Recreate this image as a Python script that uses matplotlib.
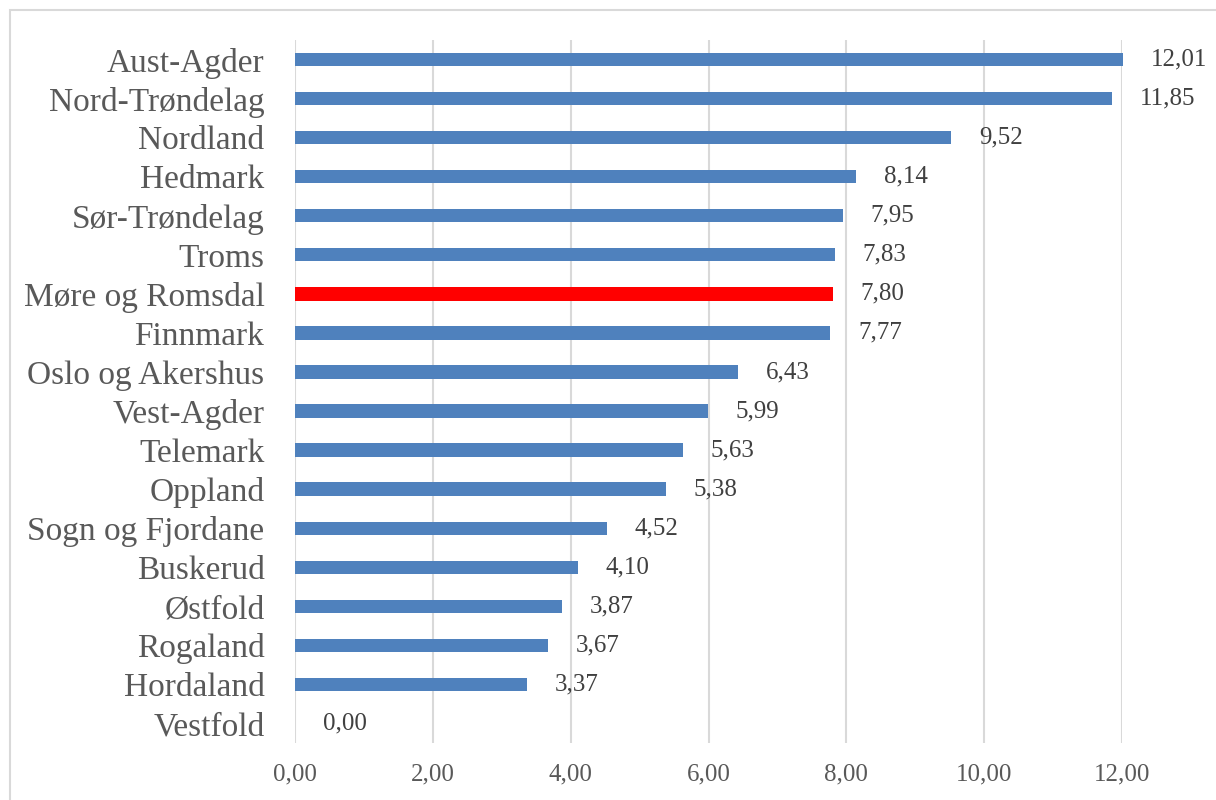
import matplotlib
matplotlib.use("Agg")
import matplotlib.pyplot as plt
from matplotlib.patches import Rectangle

categories = ["Aust-Agder", "Nord-Trøndelag", "Nordland", "Hedmark", "Sør-Trøndelag",
              "Troms", "Møre og Romsdal", "Finnmark", "Oslo og Akershus", "Vest-Agder",
              "Telemark", "Oppland", "Sogn og Fjordane", "Buskerud", "Østfold",
              "Rogaland", "Hordaland", "Vestfold"]
values = [12.01, 11.85, 9.52, 8.14, 7.95, 7.83, 7.80, 7.77, 6.43, 5.99,
          5.63, 5.38, 4.52, 4.10, 3.87, 3.67, 3.37, 0.00]
highlight = "Møre og Romsdal"
xticks = [0, 2, 4, 6, 8, 10, 12]

FONT = ["Liberation Serif", "DejaVu Serif"]
plt.rcParams['font.family'] = FONT

fig = plt.figure(figsize=(12.16, 8), dpi=100)
W, H = 1216, 800
ax = fig.add_axes([295 / W, 1 - 743 / H, (1122 - 295) / W, (743 - 40) / H])

n = len(categories)
ypos = list(range(n))
colors = ["#FF0000" if c == highlight else "#4F81BD" for c in categories]
bars = ax.barh(ypos, values, height=0.34, color=colors, zorder=3, clip_on=False)
ax.set_ylim(n - 0.5, -0.5)
ax.set_xlim(0, 12)
ax.set_yticks(ypos)
ax.set_yticklabels(categories, fontsize=24, color="#595959")
ax.set_xticks(xticks)
ax.set_xticklabels([f"{t:.2f}".replace(".", ",") for t in xticks], fontsize=18, color="#595959")
ax.tick_params(axis="y", length=0, pad=22)
ax.tick_params(axis="x", length=0, pad=15)
for s in ax.spines.values():
    s.set_visible(False)
ax.grid(axis="x", color="#D9D9D9", linewidth=1.5, zorder=0)

for yv, v in zip(ypos, values):
    ax.annotate(f"{v:.2f}".replace(".", ","), xy=(v, yv), xytext=(20, 0),
                textcoords="offset points", ha="left", va="center",
                fontsize=18, color="#404040", annotation_clip=False)

fig.patches.append(Rectangle((10 / W, -0.05), 1.1, 1 - 10 / H + 0.05,
                             transform=fig.transFigure, fill=False,
                             edgecolor="#D9D9D9", linewidth=1.5))
fig.savefig("out.png", dpi=100)
